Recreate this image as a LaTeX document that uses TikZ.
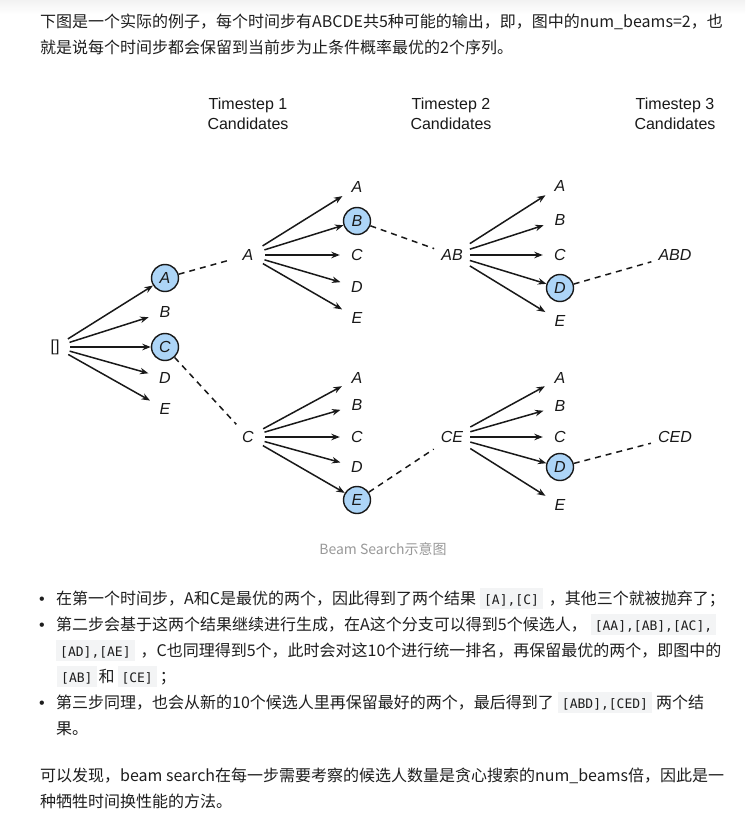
\documentclass[tikz,border=0pt]{standalone}
\usepackage{fontspec}
\setmainfont{Noto Sans CJK SC}
\newfontfamily\diagfont{Liberation Sans}
\newfontfamily\codefont{DejaVu Sans Mono}
\usetikzlibrary{arrows.meta}
\definecolor{beamblue}{RGB}{173,213,247}
\definecolor{codebg}{RGB}{243,244,245}
\definecolor{captiongray}{RGB}{153,153,153}
\definecolor{bodytext}{RGB}{30,30,30}
\definecolor{inkcol}{RGB}{25,25,25}
\newcommand\cde[1]{{\setlength{\fboxsep}{0pt}\colorbox{codebg}{\rule[-5pt]{0pt}{21pt}\kern4pt{\codefont\fontsize{13}{13}\selectfont #1}\kern4pt}}}
\begin{document}
\begin{tikzpicture}[x=1pt,y=-1pt,
  lt/.style={font=\diagfont\itshape\fontsize{16}{16}\selectfont, circle, inner sep=0pt, minimum size=34pt, text=inkcol},
  sel/.style={lt, draw=inkcol, line width=1.4pt, fill=beamblue, minimum size=27pt},
  seqn/.style={font=\diagfont\itshape\fontsize{16}{16}\selectfont, inner sep=7pt, text=inkcol},
  arr/.style={draw=inkcol, line width=1.5pt, -{Stealth[length=8.5pt,width=6.5pt]}},
  dsh/.style={draw=inkcol, line width=1.5pt, dash pattern=on 6pt off 5pt},
  hdr/.style={font=\diagfont\fontsize{16}{20}\selectfont, align=center, text=inkcol},
  body/.style={anchor=base west, inner sep=0pt, font=\fontsize{16}{16}\selectfont, text=bodytext},
  bul/.style={anchor=base west, inner sep=0pt, font=\diagfont\fontsize{16}{16}\selectfont, text=bodytext}
]
\useasboundingbox (0,0) rectangle (745,821);
\fill[white] (0,0) rectangle (745,821);
\shade[top color=black!5, bottom color=white] (0,0) rectangle (745,14);

% intro text
\node[body] (t1) at (40,28) {下图是一个实际的例子，每个时间步有ABCDE共5种可能的输出，即，图中的num\_beams=2，也};
\node[body] (t2) at (40,54) {就是说每个时间步都会保留到当前步为止条件概率最优的2个序列。};

% headers
\node[hdr] (h1) at (248,114) {Timestep 1\\Candidates};
\node[hdr] (h2) at (451,114) {Timestep 2\\Candidates};
\node[hdr] (h3) at (675,114) {Timestep 3\\Candidates};

% diagram nodes
\node[lt, font=\diagfont\fontsize{16}{16}\selectfont, minimum size=30pt] (root) at (55,347) {[]};
\node[sel] (a1) at (165,278) {A};
\node[lt]  (b1) at (165,312) {B};
\node[sel] (c1) at (165,347) {C};
\node[lt]  (d1) at (165,378) {D};
\node[lt]  (e1) at (165,409) {E};

\node[lt] (pa) at (248,255) {A};
\node[lt] (pc) at (248,437) {C};

\node[lt]  (ta2) at (357,187) {A};
\node[sel] (tb2) at (357,221) {B};
\node[lt]  (tc2) at (357,255) {C};
\node[lt]  (td2) at (357,287) {D};
\node[lt]  (te2) at (357,318) {E};

\node[lt]  (ba2) at (357,378) {A};
\node[lt]  (bb2) at (357,405) {B};
\node[lt]  (bc2) at (357,437) {C};
\node[lt]  (bd2) at (357,467) {D};
\node[sel] (be2) at (357,500) {E};

\node[seqn] (ab) at (452,255) {AB};
\node[seqn] (ce) at (452,437) {CE};

\node[lt]  (ta3) at (560,186) {A};
\node[lt]  (tb3) at (560,220) {B};
\node[lt]  (tc3) at (560,255) {C};
\node[sel] (td3) at (560,288) {D};
\node[lt]  (te3) at (560,321) {E};

\node[lt]  (ba3) at (560,378) {A};
\node[lt]  (bb3) at (560,406) {B};
\node[lt]  (bc3) at (560,437) {C};
\node[sel] (bd3) at (560,467) {D};
\node[lt]  (be3) at (560,505) {E};

\node[seqn] (abd) at (675,255) {ABD};
\node[seqn] (ced) at (675,437) {CED};

% arrows
\foreach \t in {a1,b1,c1,d1,e1} \draw[arr] (root) -- (\t);
\foreach \t in {ta2,tb2,tc2,td2,te2} \draw[arr] (pa) -- (\t);
\foreach \t in {ba2,bb2,bc2,bd2,be2} \draw[arr] (pc) -- (\t);
\foreach \t in {ta3,tb3,tc3,td3,te3} \draw[arr] (ab) -- (\t);
\foreach \t in {ba3,bb3,bc3,bd3,be3} \draw[arr] (ce) -- (\t);

% dashed
\draw[dsh] (a1) -- (pa);
\draw[dsh] (c1) -- (pc);
\draw[dsh] (tb2) -- (ab);
\draw[dsh] (be2) -- (ce);
\draw[dsh] (td3) -- (abd);
\draw[dsh] (bd3) -- (ced);

% caption
\node[font=\fontsize{14}{14}\selectfont, text=captiongray, inner sep=0pt] (cap) at (383,549) {Beam Search示意图};

% bullets
\node[bul] (u1) at (39,604) {•};
\node[bul] (u2) at (39,630) {•};
\node[bul] (u3) at (39,708) {•};
\node[body] (b1l) at (56,604) {在第一个时间步，A和C是最优的两个，因此得到了两个结果\kern4pt\cde{[A],[C]}\kern6pt，其他三个就被抛弃了；};
\node[body] (b2l) at (56,630) {第二步会基于这两个结果继续进行生成，在A这个分支可以得到5个候选人，\kern4pt\cde{[AA],[AB],[AC],}};
\node[body] (b2m) at (56,656) {\cde{[AD],[AE]}\kern6pt，C也同理得到5个，此时会对这10个进行统一排名，再保留最优的两个，即图中的};
\node[body] (b2n) at (57,682) {\cde{[AB]}\kern2pt和\kern3pt\cde{[CE]}\kern3pt；};
\node[body] (b3l) at (56,708) {第三步同理，也会从新的10个候选人里再保留最好的两个，最后得到了\kern4pt\cde{[ABD],[CED]}\kern4pt两个结};
\node[body] (b3m) at (56,734) {果。};

% final paragraph
\node[body] (p1) at (40,781) {可以发现，beam search在每一步需要考察的候选人数量是贪心搜索的num\_beams倍，因此是一};
\node[body] (p2) at (40,807) {种牺牲时间换性能的方法。};
\end{tikzpicture}
\end{document}
